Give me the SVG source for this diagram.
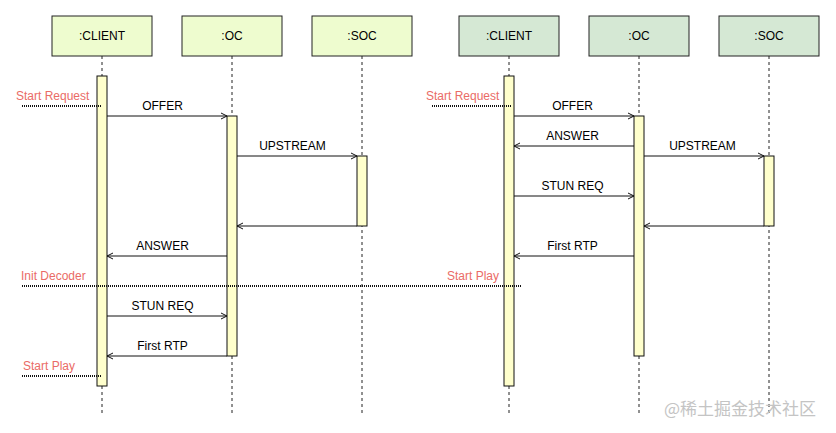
<svg xmlns="http://www.w3.org/2000/svg" width="836" height="433" viewBox="0 0 836 433">
<defs>
<style>
text{font-family:"Liberation Sans",Arial,Helvetica,sans-serif;font-size:12px;fill:#000}
.lbl{text-anchor:middle}
.red{fill:#ea6b66}
.boxA{fill:#eefccf;stroke:#222;stroke-width:1}
.boxB{fill:#d5e8d4;stroke:#222;stroke-width:1}
.life{stroke:#222;stroke-width:1;stroke-dasharray:3 3;fill:none}
.act{fill:#ffffcc;stroke:#111;stroke-width:1}
.msg{stroke:#111;stroke-width:1;fill:none;marker-end:url(#open)}
.dot{stroke:#111;stroke-width:2;stroke-dasharray:1 1;fill:none}
.wm{font-family:"Noto Sans CJK SC","Liberation Sans",sans-serif;font-size:17px;fill:#c4c4c4}
</style>
<marker id="open" viewBox="-7 -4 8 8" refX="0" refY="0" markerWidth="8" markerHeight="8" markerUnits="userSpaceOnUse" orient="auto">
<path d="M-6,-3 L0,0 L-6,3" fill="none" stroke="#111" stroke-width="1"/>
</marker>
</defs>
<rect width="836" height="433" fill="#fff"/>

<g id="lifelines">
<line class="life" x1="102" y1="56" x2="102" y2="413"/>
<line class="life" x1="232" y1="56" x2="232" y2="413"/>
<line class="life" x1="362" y1="56" x2="362" y2="413"/>
<line class="life" x1="509" y1="56" x2="509" y2="413"/>
<line class="life" x1="639" y1="56" x2="639" y2="413"/>
<line class="life" x1="769" y1="56" x2="769" y2="413"/>
</g>

<g id="client-left"><rect class="boxA" x="52" y="16" width="100" height="40"/><text class="lbl" x="102" y="40">:CLIENT</text></g>
<g id="oc-left"><rect class="boxA" x="182" y="16" width="100" height="40"/><text class="lbl" x="232" y="40">:OC</text></g>
<g id="soc-left"><rect class="boxA" x="312" y="16" width="100" height="40"/><text class="lbl" x="362" y="40">:SOC</text></g>
<g id="client-right"><rect class="boxB" x="459" y="16" width="100" height="40"/><text class="lbl" x="509" y="40">:CLIENT</text></g>
<g id="oc-right"><rect class="boxB" x="589" y="16" width="100" height="40"/><text class="lbl" x="639" y="40">:OC</text></g>
<g id="soc-right"><rect class="boxB" x="719" y="16" width="100" height="40"/><text class="lbl" x="769" y="40">:SOC</text></g>

<g id="activations">
<rect class="act" x="97" y="76" width="10" height="310"/>
<rect class="act" x="227" y="116" width="10" height="240"/>
<rect class="act" x="357" y="156" width="10" height="70"/>
<rect class="act" x="504" y="76" width="10" height="310"/>
<rect class="act" x="634" y="116" width="10" height="240"/>
<rect class="act" x="764" y="156" width="10" height="70"/>
</g>

<g id="connectors">
<line class="msg" x1="107" y1="116" x2="227" y2="116"/>
<line class="msg" x1="237" y1="156" x2="357" y2="156"/>
<line class="msg" x1="357" y1="226" x2="237" y2="226"/>
<line class="msg" x1="227" y1="256" x2="107" y2="256"/>
<line class="msg" x1="107" y1="316" x2="227" y2="316"/>
<line class="msg" x1="227" y1="356" x2="107" y2="356"/>

<line class="msg" x1="514" y1="116" x2="634" y2="116"/>
<line class="msg" x1="634" y1="146" x2="514" y2="146"/>
<line class="msg" x1="644" y1="156" x2="764" y2="156"/>
<line class="msg" x1="514" y1="196" x2="634" y2="196"/>
<line class="msg" x1="764" y1="226" x2="644" y2="226"/>
<line class="msg" x1="634" y1="256" x2="514" y2="256"/>

<line class="dot" x1="22" y1="106" x2="101" y2="106"/>
<line class="dot" x1="22" y1="286" x2="521" y2="286"/>
<line class="dot" x1="22" y1="376" x2="101" y2="376"/>
<line class="dot" x1="432" y1="106" x2="511" y2="106"/>
</g>

<g id="labels">
<text class="lbl" x="162.5" y="110">OFFER</text>
<text class="lbl" x="292.5" y="150">UPSTREAM</text>
<text class="lbl" x="162.5" y="250">ANSWER</text>
<text class="lbl" x="162.5" y="310">STUN REQ</text>
<text class="lbl" x="162.5" y="350">First RTP</text>

<text class="lbl" x="572.5" y="110">OFFER</text>
<text class="lbl" x="572.5" y="140">ANSWER</text>
<text class="lbl" x="702.5" y="150">UPSTREAM</text>
<text class="lbl" x="572.5" y="190">STUN REQ</text>
<text class="lbl" x="572.5" y="250">First RTP</text>

<text class="red" x="16" y="100">Start Request</text>
<text class="red" x="21" y="280">Init Decoder</text>
<text class="red" x="23" y="370">Start Play</text>
<text class="red" x="426" y="100">Start Request</text>
<text class="red" x="447" y="280">Start Play</text>
</g>

<text class="wm" x="664" y="415">@稀土掘金技术社区</text>
</svg>
